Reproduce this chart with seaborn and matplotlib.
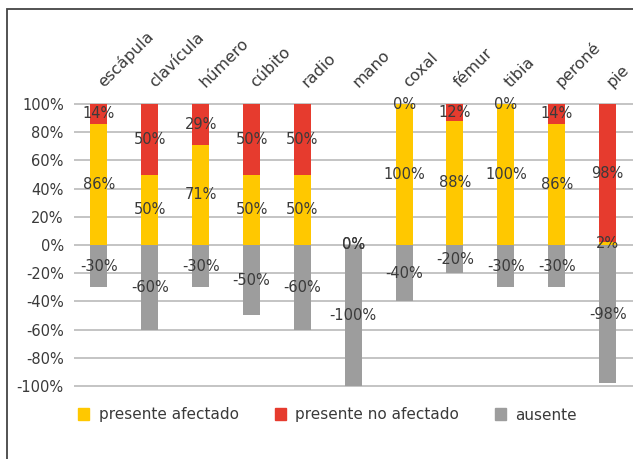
import matplotlib
matplotlib.use("Agg")
import matplotlib.pyplot as plt
from matplotlib.patches import Patch, Rectangle
from matplotlib.ticker import FuncFormatter
import seaborn as sns

# === Data ===
huesos = ['escápula', 'clavícula', 'húmero', 'cúbito', 'radio', 'mano',
          'coxal', 'fémur', 'tibia', 'peroné', 'pie']
presente_afectado = [86, 50, 71, 50, 50, 0, 100, 88, 100, 86, 2]
presente_no_afectado = [14, 50, 29, 50, 50, 0, 0, 12, 0, 14, 98]
ausente = [-30, -60, -30, -50, -60, -100, -40, -20, -30, -30, -98]

YELLOW = '#FFC800'
RED = '#E63B2E'
GRAY = '#9D9D9D'
TXT = '#3a3a3a'
FS = 10.5

sns.set_theme(style='white')
plt.rcParams['font.family'] = ['DejaVu Sans']

fig = plt.figure(figsize=(6.33, 4.59), dpi=100)
ax = fig.add_axes([73.5 / 633, 0.153, 559.5 / 633, 0.6265])

common = dict(width=0.334, saturation=1, ax=ax, linewidth=0)
sns.barplot(x=huesos, y=presente_afectado, color=YELLOW, **common)
sns.barplot(x=huesos, y=presente_no_afectado, bottom=presente_afectado, color=RED, **common)
sns.barplot(x=huesos, y=ausente, color=GRAY, **common)

# data labels centred in each segment
for cont, vals in zip(ax.containers, [presente_afectado, presente_no_afectado, ausente]):
    ax.bar_label(cont, labels=[f'{v}%' for v in vals], label_type='center',
                 fontsize=FS, color=TXT)

ax.set_ylim(-102, 102)
ax.set_yticks(range(-100, 101, 20))
ax.yaxis.set_major_formatter(FuncFormatter(lambda v, p: f'{int(v)}%'))
ax.grid(axis='y', color='#c4c4c4', linewidth=1.4)
ax.grid(axis='x', visible=False)
ax.set_axisbelow(True)
for s in ax.spines.values():
    s.set_visible(False)
ax.set_xlabel('')
ax.set_ylabel('')

ax.tick_params(axis='y', length=0, pad=7, labelsize=FS, labelcolor=TXT)
ax.tick_params(axis='x', length=0, bottom=False, labelbottom=False)

# category names above the bars, rotated 45 degrees
for i, name in enumerate(huesos):
    ax.annotate(name, xy=(i, 100), xytext=(3.5, 11.5), textcoords='offset points',
                rotation=45, rotation_mode='anchor', ha='left', va='baseline',
                fontsize=11.5, color=TXT, annotation_clip=False)

handles = [Patch(color=YELLOW), Patch(color=RED), Patch(color=GRAY)]
fig.legend(handles, ['presente afectado', 'presente no afectado', 'ausente'],
           loc='center left', bbox_to_anchor=(78 / 633, 1 - 415 / 459),
           ncol=3, frameon=False, borderpad=0, borderaxespad=0,
           handlelength=0.75, handleheight=0.85, handletextpad=0.6,
           columnspacing=2.35, prop={'size': 11}, labelcolor=TXT)

# chart frame (extends past the right and bottom edges)
fig.patches.append(Rectangle((7.5 / 633, -0.1), 1.2, 1.1 - 8.5 / 459,
                             transform=fig.transFigure, fill=False,
                             edgecolor='#444444', linewidth=1.3))

fig.savefig('out.png', dpi=100)
